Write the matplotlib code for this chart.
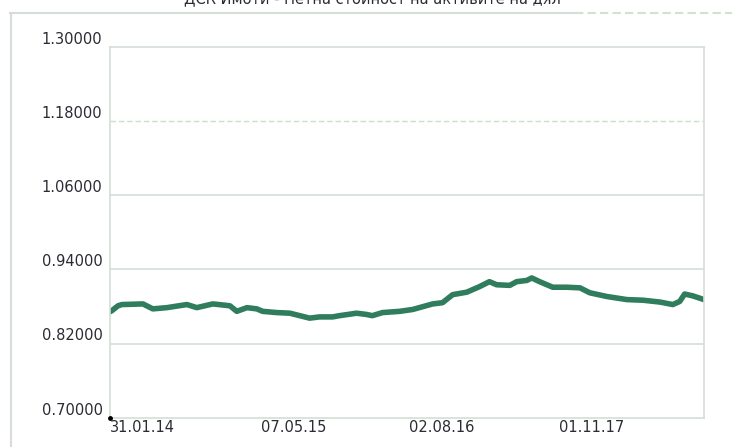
import matplotlib
matplotlib.use("Agg")
import matplotlib.pyplot as plt
import matplotlib.dates as mdates
from matplotlib.lines import Line2D
import pandas as pd

# стойности, отчетени от графиката
dates = ["2014-01-31", "2014-02-07", "2014-02-26", "2014-03-10", "2014-05-13",
         "2014-06-12", "2014-07-25", "2014-09-24", "2014-10-24", "2014-12-12",
         "2015-02-02", "2015-02-23", "2015-03-26", "2015-04-25", "2015-05-13",
         "2015-06-25", "2015-08-04", "2015-09-03", "2015-10-03", "2015-11-02",
         "2015-12-12", "2016-01-02", "2016-02-23", "2016-03-24", "2016-04-11",
         "2016-05-12", "2016-07-03", "2016-08-12", "2016-10-12", "2016-11-11",
         "2016-12-12", "2017-01-24", "2017-03-04", "2017-04-03", "2017-04-25",
         "2017-06-04", "2017-06-25", "2017-07-26", "2017-08-10", "2017-09-03",
         "2017-10-13", "2017-11-25", "2018-01-04", "2018-02-03", "2018-03-27",
         "2018-05-27", "2018-07-15", "2018-09-05", "2018-10-14", "2018-11-04",
         "2018-11-19", "2018-12-14", "2019-01-17"]
nav = [0.871, 0.873, 0.881, 0.883, 0.884,
       0.876, 0.878, 0.883, 0.878, 0.884,
       0.881, 0.872, 0.878, 0.876, 0.872,
       0.870, 0.869, 0.865, 0.861, 0.863,
       0.863, 0.865, 0.869, 0.867, 0.865,
       0.870, 0.872, 0.875, 0.884, 0.886,
       0.899, 0.903, 0.912, 0.920, 0.915,
       0.914, 0.920, 0.922, 0.926, 0.920,
       0.911, 0.911, 0.910, 0.902, 0.896,
       0.891, 0.890, 0.887, 0.883, 0.888,
       0.900, 0.897, 0.891]

tick_dates = ["2014-01-31", "2015-05-07", "2016-08-02", "2017-11-01"]
tick_labels = ["31.01.14", "07.05.15", "02.08.16", "01.11.17"]
y_ticks = [0.70, 0.82, 0.94, 1.06, 1.18, 1.30]

title = "ДСК Имоти - Нетна стойност на активите на дял"

x = pd.to_datetime(dates)
x_start = pd.Timestamp("2014-01-31")
x_end = pd.Timestamp("2019-01-17")

grid_c = "#d6ddd6"
text_c = "#2b2b33"

fig = plt.figure(figsize=(7.32, 4.47), dpi=100)
ax = fig.add_axes([109.5 / 732, 1 - 417.7 / 447, (704 - 109.5) / 732, (417.7 - 46.7) / 447])

ax.plot(x, nav, color="#2f7d5c", lw=4, solid_capstyle="round", solid_joinstyle="round")

ax.set_xlim(x_start, x_end)
ax.set_ylim(y_ticks[0], y_ticks[-1])

# решетка: 1.18 е пунктирана, останалите плътни
for v in y_ticks[1:-1]:
    if abs(v - 1.18) < 1e-9:
        ax.axhline(v, color="#c9e0c9", lw=1, ls=(0, (4, 2)), zorder=0)
    else:
        ax.axhline(v, color=grid_c, lw=1.2, zorder=0)

for s in ax.spines.values():
    s.set_color(grid_c)
    s.set_linewidth(1.2)

ax.set_yticks(y_ticks)
ax.set_yticklabels([f"{v:.5f}" for v in y_ticks])
for lab in ax.get_yticklabels():
    lab.set_va("bottom")
ax.tick_params(axis="y", length=0, pad=5, labelsize=10.5, labelcolor=text_c)

ax.set_xticks(pd.to_datetime(tick_dates))
ax.set_xticklabels(tick_labels)
for lab in ax.get_xticklabels():
    lab.set_ha("left")
ax.tick_params(axis="x", length=0, pad=2, labelsize=10.5, labelcolor=text_c)

# малката черна точка в долния ляв ъгъл
ax.plot([x_start], [y_ticks[0]], "o", color="black", ms=2.5, clip_on=False, zorder=5)

# външна рамка
fig.add_artist(Line2D([10 / 732, 575 / 732], [1 - 13 / 447] * 2, color=grid_c, lw=1.5))
fig.add_artist(Line2D([575 / 732, 1.0], [1 - 13 / 447] * 2, color="#cfe3cf", lw=1.5, ls=(0, (4, 2))))
fig.add_artist(Line2D([10.5 / 732] * 2, [0, 1 - 13 / 447], color=grid_c, lw=1.5))

# заглавието е отрязано отгоре
fig.text(372 / 732, 1 - 3 / 447, title, ha="center", va="baseline", fontsize=10.5, color=text_c)

fig.savefig("out.png", dpi=100)
